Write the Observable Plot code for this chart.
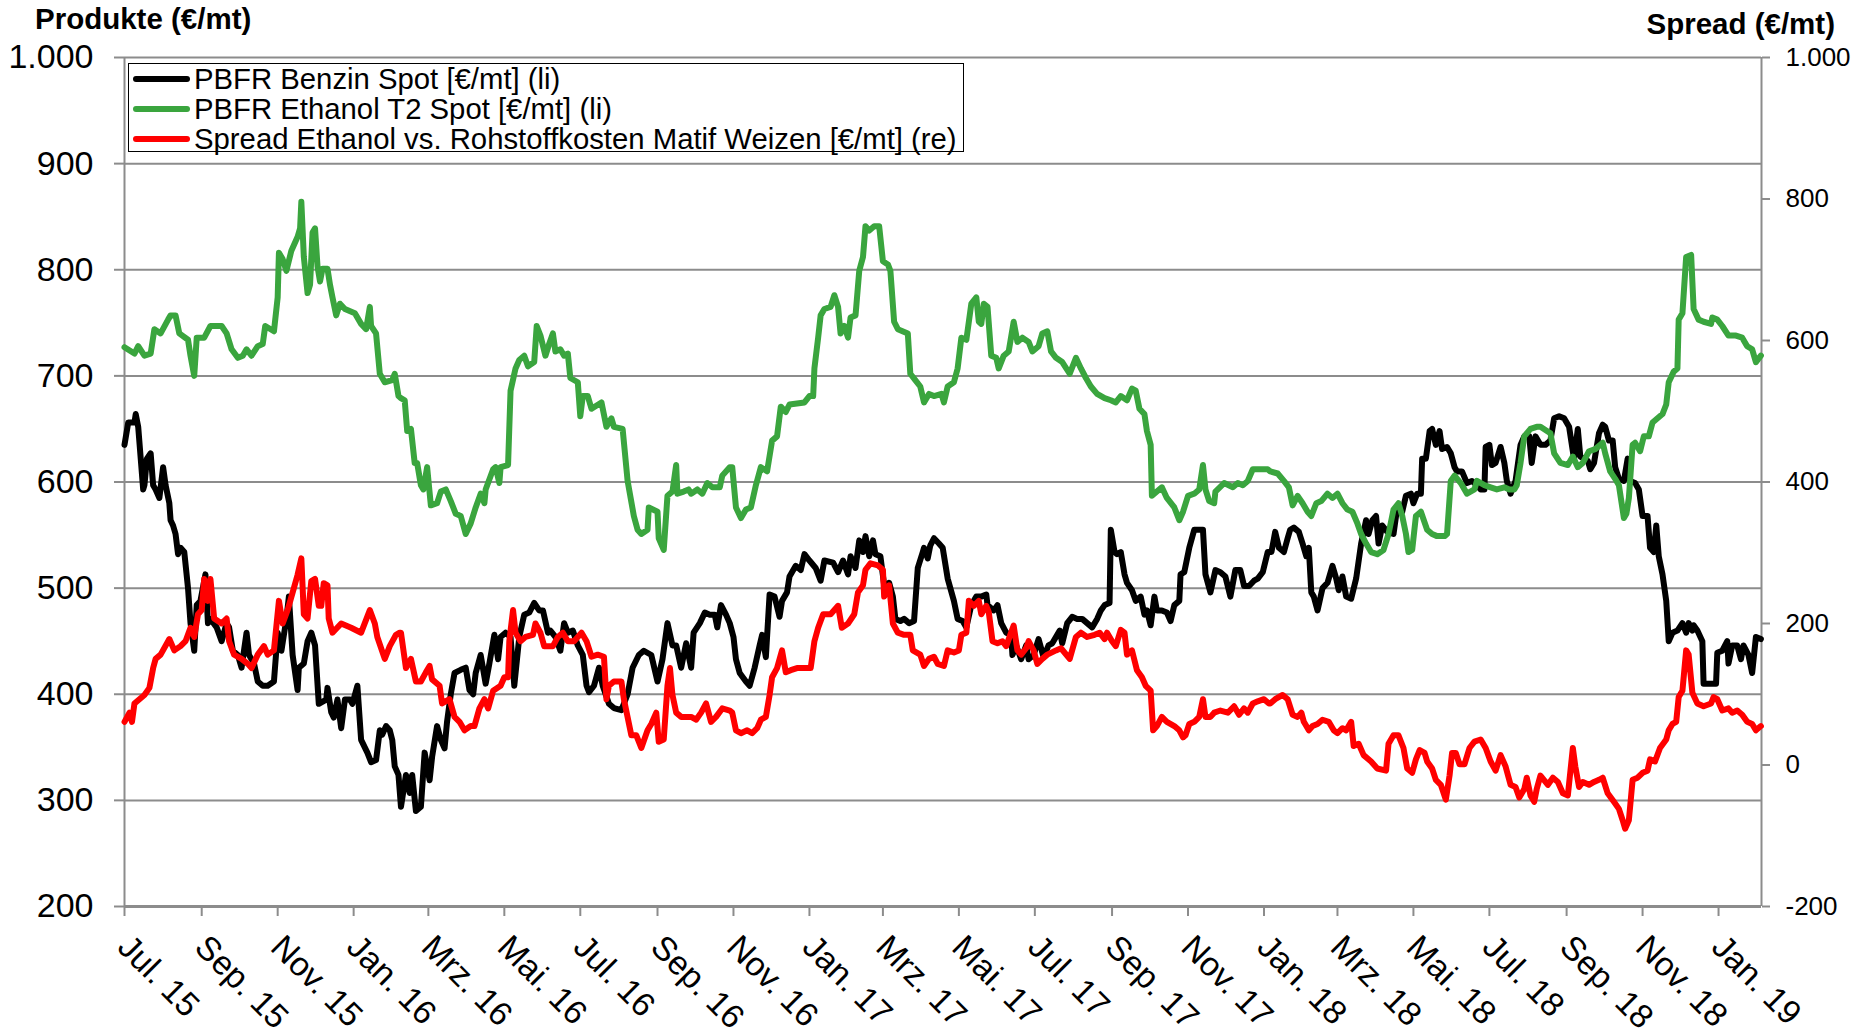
<!DOCTYPE html>
<html><head><meta charset="utf-8">
<script src="https://cdn.jsdelivr.net/npm/d3@7"></script>
<script src="https://cdn.jsdelivr.net/npm/@observablehq/plot@0.6"></script>
<style>
body{margin:0;background:#fff;font-family:"Liberation Sans",Arial,sans-serif;}
#wrap{position:relative;width:1862px;height:1035px;overflow:hidden;}
.title{position:absolute;font-weight:bold;font-size:29.5px;line-height:32px;color:#000;white-space:nowrap;}
#legend{position:absolute;left:128px;top:63px;width:836px;height:89px;border:1.5px solid #000;background:#fff;box-sizing:border-box;}
.row{display:flex;align-items:center;height:30px;font-size:29.3px;line-height:30px;white-space:nowrap;}
.swatch{width:57px;height:6px;margin-left:4px;margin-right:4px;border-radius:3px;}
</style>
</head><body>
<div id="wrap">
  <div id="chart"></div>
  <div class="title" id="tl" style="left:35px;top:3px;">Produkte (€/mt)</div>
  <div class="title" id="tr" style="right:27px;top:8px;">Spread (€/mt)</div>
  <div id="legend"></div>
</div>
<script>
// ---- data (days since 2015-07-01, value) ----
const START = "2015-07-01";
const seriesNames = ["PBFR Benzin Spot [€/mt] (li)", "PBFR Ethanol T2 Spot [€/mt] (li)", "Spread Ethanol vs. Rohstoffkosten Matif Weizen [€/mt] (re)"];
const seriesColors = ["#000000", "#3aa53e", "#ff0000"];

const benzin = [[0,635],[3,656],[8,656],[9,664],[11,652],[15,593],[16,597],[18,622],[21,627],[23,597],[25,593],[28,585],[31,614],[33,597],[36,580],[37,564],[39,559],[41,551],[43,532],[45,538],[48,534],[51,500],[53,467],[56,441],[58,484],[61,488],[65,513],[67,467],[69,471],[74,463],[78,450],[82,467],[84,463],[87,441],[91,437],[94,425],[98,458],[100,437],[104,429],[107,412],[111,408],[115,408],[120,412],[123,458],[126,441],[130,471],[132,492],[135,437],[139,404],[140,425],[144,429],[147,450],[150,458],[153,446],[156,391],[162,395],[163,406],[166,383],[168,378],[171,395],[174,368],[177,395],[181,395],[183,391],[187,408],[190,357],[195,345],[198,336],[202,338],[205,366],[207,362],[210,370],[213,366],[215,357],[217,332],[220,324],
[222,294],[226,324],[229,307],[231,324],[234,290],[238,294],[241,345],[245,319],[247,341],[251,370],[254,357],[257,349],[259,374],[262,400],[265,420],[270,423],[274,425],[277,404],[280,400],[282,420],[286,437],[290,410],[293,429],[297,456],[300,433],[302,454],[306,458],[310,454],[313,408],[317,454],[321,475],[325,477],[329,486],[333,479],[336,479],[340,458],[342,460],[346,454],[350,441],[353,467],[356,458],[360,460],[364,446],[368,437],[371,408],[373,402],[377,408],[381,425],[384,408],[389,391],[393,387],[399,385],[404,400],[408,425],[413,437],[417,441],[423,437],[428,412],[432,433],[436,467],[440,446],[443,446],[447,425],[451,448],
[455,425],[457,458],[462,467],[466,477],[470,475],[474,475],[476,463],[479,484],[483,475],[486,467],[489,454],[491,433],[494,420],[499,412],[502,408],[506,425],[510,446],[512,456],[515,435],[518,494],[522,492],[526,473],[528,488],[532,496],[534,511],[539,521],[543,517],[546,532],[550,526],[555,519],[559,507],[562,526],[569,524],[573,515],[577,526],[581,513],[583,530],[587,519],[590,545],[593,534],[595,549],[598,530],[601,545],[603,532],[607,530],[611,494],[614,505],[617,492],[619,471],[623,469],[626,471],[630,467],[634,469],[637,519],[641,534],[642,538],[645,528],[647,540],[650,547],[654,542],[657,538],[661,509],[666,488],[669,471],[673,469],[676,463],[680,484],[684,492],
[688,492],[692,494],[693,484],[698,479],[701,484],[704,467],[708,458],[712,456],[713,437],[716,446],[720,433],[724,446],[726,433],[730,437],[734,452],[738,435],[742,446],[745,448],[751,460],[753,448],[757,467],[761,473],[765,471],[769,471],[773,467],[777,463],[781,471],[784,479],[787,484],[791,486],[792,555],[795,534],[797,532],[800,534],[803,513],[805,505],[809,498],[812,488],[816,492],[819,475],[821,479],[824,465],[827,492],[829,479],[833,479],[837,477],[840,469],[843,484],[847,488],[848,513],[851,515],[855,538],[859,555],[863,555],[866,555],[868,513],[872,496],[876,517],[880,515],[884,511],[888,492],[892,517],[896,517],[899,502],[903,502],[907,507],[910,509],[914,515],[918,534],
[921,534],[924,553],[927,538],[931,534],[934,547],[936,555],[939,557],[943,553],[946,542],[949,530],[951,538],[953,496],[955,492],[958,479],[962,500],[966,505],[970,521],[973,509],[975,498],[978,511],[981,492],[985,490],[989,509],[993,542],[997,564],[999,551],[1002,564],[1005,568],[1007,542],[1010,559],[1014,553],[1019,551],[1022,576],[1026,572],[1029,587],[1033,589],[1035,580],[1038,589],[1041,589],[1042,622],[1045,622],[1048,648],[1050,650],[1053,635],[1056,648],[1058,631],[1062,633],[1065,627],[1068,614],[1070,610],[1074,610],[1078,599],[1082,601],[1086,597],[1089,593],[1092,593],[1093,633],[1096,635],[1098,616],[1101,618],[1105,633],[1108,618],[1110,601],[1113,589],[1117,601],[1121,635],[1124,643],[1128,643],[1130,618],[1133,643],
[1137,635],[1141,635],[1145,639],[1148,660],[1152,662],[1156,660],[1160,652],[1163,629],[1164,622],[1167,650],[1169,624],[1172,622],[1175,620],[1177,612],[1180,618],[1184,646],[1187,654],[1189,652],[1192,639],[1195,639],[1197,614],[1200,603],[1204,601],[1207,622],[1209,601],[1213,599],[1216,593],[1219,568],[1223,568],[1225,538],[1228,534],[1230,559],[1232,530],[1235,513],[1238,488],[1240,450],[1243,458],[1247,460],[1251,467],[1254,458],[1256,467],[1259,460],[1260,465],[1263,460],[1267,450],[1268,410],[1274,410],[1278,410],[1279,439],[1283,441],[1287,450],[1288,429],[1291,446],[1295,446],[1298,433],[1300,446],[1304,437],[1307,420],[1310,454],[1314,452]];

const ethanol = [[0,727],[8,721],[11,728],[16,719],[21,721],[24,744],[29,740],[35,753],[37,757],[41,757],[44,740],[51,734],[53,719],[56,700],[58,736],[64,736],[69,747],[78,747],[82,740],[86,725],[91,717],[95,719],[98,725],[102,719],[107,728],[111,730],[113,747],[120,742],[123,774],[124,816],[127,810],[130,799],[134,818],[139,831],[141,839],[142,864],[144,812],[147,778],[149,786],[151,835],[153,839],[155,803],[157,789],[159,801],[163,801],[165,786],[167,774],[170,757],[173,768],[177,763],[185,759],[190,749],[194,744],[197,765],[198,747],[202,740],[205,702],[209,694],[215,696],[217,702],[220,681],
[222,679],[225,677],[227,648],[230,650],[233,618],[235,618],[238,597],[240,593],[243,614],[246,578],[251,580],[254,591],[258,593],[262,582],[266,570],[270,568],[274,551],[278,561],[282,576],[286,589],[289,580],[290,593],[296,612],[298,614],[301,599],[302,614],[308,616],[310,686],[314,707],[317,715],[321,719],[324,709],[329,713],[331,747],[334,738],[338,719],[341,730],[344,740],[346,723],[350,725],[353,719],[356,721],[358,698],[364,694],[366,662],[368,681],[372,681],[375,669],[383,675],[387,652],[391,660],[393,652],[400,650],[404,601],[409,568],[412,555],[415,551],[420,555],[421,576],[428,572],[429,547],[433,536],[436,587],[440,591],[443,616],[444,589],[449,591],[453,593],
[455,589],[460,593],[464,589],[468,599],[472,595],[478,595],[480,606],[486,614],[488,614],[491,576],[495,566],[499,574],[503,576],[507,597],[511,614],[516,610],[520,639],[524,643],[527,671],[531,666],[534,673],[546,675],[550,681],[553,681],[554,707],[557,736],[559,757],[562,763],[567,765],[570,776],[573,765],[575,740],[578,747],[581,736],[583,755],[587,757],[590,799],[593,812],[595,841],[598,837],[602,841],[606,841],[609,808],[613,805],[615,799],[618,751],[621,744],[629,740],[631,702],[635,696],[639,690],[642,675],[646,683],[650,681],[656,683],[658,675],[661,690],[666,694],[669,707],[672,736],[676,734],[680,768],[684,774],[686,751],
[688,749],[690,768],[693,765],[696,719],[700,717],[702,707],[706,719],[710,723],[714,751],[717,732],[721,736],[726,732],[729,723],[734,728],[737,740],[741,742],[744,723],[748,717],[753,713],[759,702],[764,717],[768,707],[772,698],[776,690],[781,683],[787,679],[792,677],[796,675],[800,681],[805,677],[809,688],[812,686],[815,669],[819,664],[821,648],[824,635],[825,587],[829,591],[833,595],[837,585],[843,576],[847,564],[850,572],[854,587],[859,589],[863,593],[866,616],[868,593],[871,582],[875,580],[876,591],[883,599],[890,595],[894,599],[898,597],[902,601],[906,612],[911,612],[918,612],
[920,610],[926,608],[931,601],[935,595],[938,578],[942,587],[946,580],[950,572],[953,568],[957,580],[961,582],[966,589],[970,585],[974,589],[978,580],[982,574],[986,572],[990,561],[993,551],[997,542],[1001,534],[1006,532],[1011,536],[1015,551],[1019,574],[1023,580],[1026,568],[1029,551],[1031,534],[1034,536],[1037,568],[1041,572],[1046,555],[1050,551],[1054,549],[1060,549],[1062,551],[1065,601],[1068,606],[1073,599],[1078,589],[1084,593],[1086,601],[1092,597],[1097,595],[1102,593],[1108,595],[1112,593],[1116,593],[1118,597],[1121,618],[1124,643],[1129,650],[1134,652],
[1137,652],[1145,646],[1148,627],[1153,618],[1159,616],[1163,624],[1167,614],[1171,618],[1176,629],[1181,631],[1187,637],[1189,627],[1193,610],[1197,603],[1200,597],[1204,566],[1206,570],[1208,585],[1211,635],[1213,637],[1217,629],[1220,643],[1224,643],[1227,656],[1231,660],[1235,664],[1238,673],[1240,694],[1244,704],[1247,707],[1248,753],[1251,759],[1254,812],[1258,814],[1260,763],[1264,753],[1268,751],[1274,749],[1275,755],[1279,753],[1283,747],[1288,738],[1294,738],[1299,736],[1303,728],[1307,725],[1310,713],[1314,719]];

const spread = [[0,61],[4,74],[6,61],[8,87],[12,93],[16,99],[20,109],[23,137],[25,150],[29,156],[36,178],[40,162],[45,168],[49,175],[53,194],[56,181],[59,213],[62,219],[64,263],[67,232],[69,263],[72,207],[78,200],[82,207],[84,175],[88,156],[94,150],[99,143],[102,137],[107,156],[112,168],[115,156],[120,162],[124,232],[127,200],[131,219],[136,250],[139,269],[142,292],[144,213],[147,207],[150,260],[153,263],[156,225],[158,225],[160,257],[163,254],[164,207],[167,187],[174,200],[182,194],[190,187],[197,219],[201,200],[203,181],[209,150],[213,168],[218,184],[221,187],
[222,187],[226,137],[230,150],[234,118],[238,118],[242,131],[245,140],[247,121],[253,112],[255,87],[261,93],[265,68],[269,61],[273,49],[278,55],[281,55],[285,80],[289,93],[292,80],[296,105],[302,112],[305,124],[308,124],[309,175],[312,219],[314,187],[318,175],[322,181],[328,184],[330,200],[334,187],[337,168],[344,168],[348,181],[352,187],[356,175],[361,175],[367,187],[371,175],[375,153],[380,156],[385,153],[387,93],[389,112],[393,118],[399,118],[401,93],[407,42],[411,42],[415,24],[420,49],[423,58],[427,74],[429,33],[433,36],[436,112],[438,137],[440,99],[443,74],[447,68],[452,68],
[455,68],[459,64],[463,74],[467,87],[471,61],[475,68],[480,80],[486,77],[488,74],[491,49],[495,45],[500,49],[504,45],[508,52],[511,64],[515,68],[518,99],[520,124],[524,137],[528,162],[531,131],[535,134],[540,137],[547,137],[551,137],[554,175],[557,194],[561,213],[567,213],[573,225],[576,194],[581,200],[586,213],[589,244],[593,254],[595,276],[599,285],[605,282],[609,276],[610,238],[614,254],[617,200],[621,187],[626,184],[631,184],[633,162],[639,156],[642,140],[646,150],[650,153],[653,143],[658,140],[661,162],[666,159],[670,162],[672,184],[676,187],[678,232],[682,225],[686,232],
[688,213],[692,225],[694,216],[697,175],[701,172],[705,175],[708,168],[714,197],[717,162],[720,156],[724,165],[726,175],[730,162],[733,143],[737,150],[741,156],[748,162],[752,165],[759,150],[764,181],[768,187],[773,181],[779,184],[783,187],[787,178],[789,187],[793,175],[796,168],[800,191],[803,187],[805,156],[809,162],[813,134],[817,124],[820,112],[824,105],[826,49],[829,55],[833,68],[837,61],[843,55],[847,49],[850,39],[852,42],[855,58],[859,61],[863,68],[866,93],[868,68],[872,68],[875,74],[880,77],[886,74],[891,83],[895,71],[899,80],[902,74],[906,87],[910,90],[915,93],[919,87],
[920,87],[924,93],[930,99],[934,93],[938,71],[942,68],[945,74],[947,61],[951,49],[954,55],[958,58],[962,64],[967,61],[971,49],[974,45],[978,52],[981,49],[985,61],[987,27],[991,30],[995,14],[1001,5],[1006,-5],[1013,-8],[1015,30],[1019,42],[1023,42],[1027,24],[1030,-5],[1034,-11],[1037,8],[1040,21],[1044,17],[1046,5],[1050,-5],[1053,-21],[1057,-28],[1061,-49],[1064,-15],[1066,17],[1069,17],[1072,1],[1076,1],[1080,24],[1084,33],[1089,36],[1093,24],[1097,5],[1101,-8],[1105,14],[1109,-2],[1113,-28],[1117,-31],[1120,-46],[1124,-34],[1126,-18],[1129,-43],[1132,-52],[1134,-34],
[1137,-15],[1143,-28],[1147,-18],[1151,-24],[1155,-40],[1159,-43],[1163,24],[1165,-2],[1168,-31],[1171,-24],[1176,-28],[1180,-24],[1184,-21],[1187,-18],[1191,-40],[1196,-52],[1200,-62],[1203,-78],[1205,-90],[1208,-78],[1211,-21],[1215,-18],[1219,-11],[1223,-8],[1225,8],[1229,5],[1233,24],[1238,36],[1240,49],[1243,58],[1246,61],[1248,96],[1251,105],[1254,162],[1256,156],[1259,102],[1263,87],[1268,83],[1274,87],[1276,96],[1279,93],[1283,77],[1288,80],[1291,74],[1295,77],[1299,71],[1303,61],[1307,58],[1310,49],[1314,55]];

const leftTicks = [200, 300, 400, 500, 600, 700, 800, 900, 1000];
const spreadTicks = [-200, 0, 200, 400, 600, 800, 1000];
const xTickDates = ["2015-07-01","2015-09-01","2015-11-01","2016-01-01","2016-03-01","2016-05-01","2016-07-01","2016-09-01","2016-11-01","2017-01-01","2017-03-01","2017-05-01","2017-07-01","2017-09-01","2017-11-01","2018-01-01","2018-03-01","2018-05-01","2018-07-01","2018-09-01","2018-11-01","2019-01-01"];
const monthNames = ["Jan.","Feb.","Mrz.","Apr.","Mai.","Jun.","Jul.","Aug.","Sep.","Okt.","Nov.","Dez."];
const LAST_DAY = 1314.5;

// ---- helpers ----
const base = new Date(START + "T00:00:00Z");
const toDate = d => new Date(base.getTime() + d * 864e5);
const de = d3.formatLocale({decimal: ",", thousands: ".", grouping: [3], currency: ["", "€"], minus: "-"});
const fmt = de.format(",d");
// secondary axis: spread = 1.5 * left - 500
const spreadToLeft = s => (s + 500) / 1.5;
const leftToSpread = v => Math.round(1.5 * v - 500);
const xDates = xTickDates.map(s => new Date(s + "T00:00:00Z"));
const xLabel = d => monthNames[d.getUTCMonth()] + " " + String(d.getUTCFullYear()).slice(2);

const GRID = "#8c8c8c";
const FONT = "'Liberation Sans', Arial, sans-serif";
const LW = 6;

const chart = Plot.plot({
  width: 1862,
  height: 1035,
  marginLeft: 124,
  marginRight: 101,
  marginTop: 57,
  marginBottom: 129,
  style: {fontFamily: FONT, background: "#fff", color: "#000", overflow: "visible"},
  x: {type: "utc", domain: [toDate(0), toDate(LAST_DAY)]},
  y: {domain: [200, 1000]},
  marks: [
    Plot.ruleY(leftTicks, {stroke: GRID, strokeWidth: 2}),
    Plot.ruleY([200], {stroke: GRID, strokeWidth: 3}),
    Plot.ruleX([toDate(0), toDate(LAST_DAY)], {stroke: GRID, strokeWidth: 2}),
    Plot.axisY({ticks: leftTicks, anchor: "left", tickSize: 10, tickPadding: 21, tickFormat: fmt, stroke: GRID, strokeWidth: 2, fill: "#000", fontSize: 34, label: null}),
    Plot.axisY({ticks: spreadTicks.map(spreadToLeft), anchor: "right", tickSize: 8, tickPadding: 16, tickFormat: v => fmt(leftToSpread(v)), stroke: GRID, strokeWidth: 2, fill: "#000", fontSize: 26, label: null}),
    Plot.axisX({ticks: xDates, anchor: "bottom", tickSize: 10, tickFormat: () => "", stroke: GRID, strokeWidth: 2, label: null}),
    Plot.text(xDates, {x: d => d, y: 200, text: xLabel, rotate: 45, textAnchor: "start", lineAnchor: "middle", dx: -1, dy: 35, fontSize: 33.5, fill: "#000"}),
    Plot.line(benzin, {x: d => toDate(d[0]), y: d => d[1], stroke: seriesColors[0], strokeWidth: LW, strokeLinejoin: "round", strokeLinecap: "round"}),
    Plot.line(ethanol, {x: d => toDate(d[0]), y: d => d[1], stroke: seriesColors[1], strokeWidth: LW, strokeLinejoin: "round", strokeLinecap: "round"}),
    Plot.line(spread, {x: d => toDate(d[0]), y: d => spreadToLeft(d[1]), stroke: seriesColors[2], strokeWidth: LW, strokeLinejoin: "round", strokeLinecap: "round"})
  ]
});
document.getElementById("chart").appendChild(chart);

// legend
const legend = document.getElementById("legend");
seriesNames.forEach((name, i) => {
  const row = document.createElement("div");
  row.className = "row";
  const sw = document.createElement("span");
  sw.className = "swatch";
  sw.style.background = seriesColors[i];
  const tx = document.createElement("span");
  tx.textContent = name;
  row.appendChild(sw);
  row.appendChild(tx);
  legend.appendChild(row);
});
</script>
</body></html>
